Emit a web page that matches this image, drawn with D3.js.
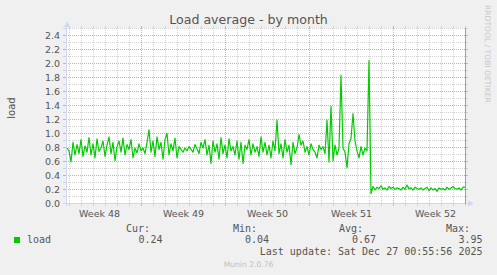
<!DOCTYPE html>
<html>
<head>
<meta charset="utf-8">
<script src="https://cdn.jsdelivr.net/npm/d3@7"></script>
<style>
  html, body { margin: 0; padding: 0; background: #f0f0f0; }
  svg { display: block; }
</style>
</head>
<body>
<div class="munin"></div>
<script>
////////////////////////////////// data

// 4-hour load averages, oldest first
var loadValues = [
  0.80, 0.76, 0.60, 0.88, 0.70, 0.85, 0.72, 0.92, 0.68, 0.83,
  0.74, 0.95, 0.70, 0.86, 0.66, 0.93, 0.75, 0.80, 0.90, 0.68,
  0.84, 0.96, 0.72, 0.88, 0.62, 0.82, 0.90, 0.74, 0.94, 0.70,
  0.85, 0.78, 0.92, 0.66, 0.80, 0.73, 0.86, 0.76, 0.80, 0.72,
  0.88, 1.06, 0.74, 0.90, 0.68, 0.96, 0.78, 0.88, 0.64, 0.92,
  1.01, 0.70, 0.86, 0.76, 0.94, 0.66, 0.82, 0.78, 0.74, 0.80,
  0.76, 0.82, 0.78, 0.74, 0.85, 0.79, 0.72, 0.88, 0.80, 0.92,
  0.70, 0.84, 0.58, 0.90, 0.74, 0.86, 0.64, 0.95, 0.72, 0.84,
  0.66, 0.93, 0.76, 0.82, 0.70, 0.90, 0.64, 0.88, 0.58, 0.84,
  0.78, 0.92, 0.70, 0.86, 0.74, 0.82, 0.68, 0.96, 0.74, 0.88,
  0.70, 0.84, 0.66, 0.90, 0.76, 1.20, 0.72, 0.86, 0.66, 0.92,
  0.74, 0.84, 0.56, 0.88, 0.72, 0.80, 0.99, 0.84, 0.90, 0.74,
  0.82, 0.70, 0.86, 0.78, 0.74, 0.66, 0.84, 0.78, 0.82, 0.72,
  1.20, 0.60, 1.40, 0.62, 0.84, 0.70, 0.80, 1.84, 0.80, 0.74,
  0.52, 0.86, 0.94, 1.29, 0.90, 0.76, 0.66, 0.82, 0.70, 0.80,
  0.76, 2.05,
  0.15, 0.25, 0.20, 0.24, 0.22, 0.26, 0.21, 0.23, 0.20, 0.25,
  0.22, 0.24, 0.21, 0.23, 0.22, 0.20, 0.24, 0.21, 0.27, 0.22,
  0.23, 0.20, 0.24, 0.22, 0.21, 0.23, 0.20, 0.22, 0.24, 0.19,
  0.23, 0.20, 0.22, 0.18, 0.23, 0.21, 0.22, 0.20, 0.24, 0.21,
  0.23, 0.25, 0.22, 0.21, 0.23, 0.20, 0.24, 0.24
];

var weekLabels = ["Week 48", "Week 49", "Week 50", "Week 51", "Week 52"];
var yMajorTicks = [0, 0.2, 0.4, 0.6, 0.8, 1.0, 1.2, 1.4, 1.6, 1.8, 2.0, 2.2, 2.4];
var yMinorTicks = [0.1, 0.3, 0.5, 0.7, 0.9, 1.1, 1.3, 1.5, 1.7, 1.9, 2.1, 2.3, 2.5];
var yTickLabels = ["0.0", "0.2", "0.4", "0.6", "0.8", "1.0", "1.2", "1.4", "1.6", "1.8", "2.0", "2.2", "2.4"];

var legendHeads = ["Cur:", "Min:", "Avg:", "Max:"];
var legendValues = ["0.24", "0.04", "0.67", "3.95"];
var lastUpdate = "Last update: Sat Dec 27 00:55:56 2025";

var muninGraph = (function() {

    var exports = {};

////////////////////////////////// global variables

    var width = 497, height = 275;
    var plot = { left: 66, right: 466, top: 29, bottom: 204 };

    var endTime = Date.UTC(2025, 11, 27, 0, 55, 56);
    var startTime = endTime - 800 * 3600e3;   // munin "month" = 800h
    var step = 4 * 3600e3;

    var font = "'DejaVu Sans', Verdana, sans-serif";
    var mono = "'DejaVu Sans Mono', monospace";

////////////////////////////////// helper functions

    //snaps a coordinate onto the middle of a pixel so 1px lines stay sharp
    function crisp(v){
        return Math.ceil(Math.round(v * 100) / 100) - 0.5;
    }

    function View(div){

        var svg = d3.select(div).append("svg")
            .attr("width", width).attr("height", height);

        svg.append("rect").attr("width", width).attr("height", height).attr("fill", "#f0f0f0");

        var x = d3.scaleUtc().domain([new Date(startTime), new Date(endTime)]).range([plot.left, plot.right]);
        var y = d3.scaleLinear().domain([0, 2.5]).range([plot.bottom, plot.top]);

        //canvas
        svg.append("rect")
            .attr("x", plot.left).attr("y", plot.top - 1)
            .attr("width", plot.right - plot.left).attr("height", plot.bottom - plot.top + 1)
            .attr("fill", "#ffffff");

        var grid = svg.append("g").attr("shape-rendering", "crispEdges");

        function hLines(vals, color){
            vals.forEach(function(v){
                var yy = crisp(y(v));
                grid.append("line").attr("x1", plot.left).attr("x2", plot.right)
                    .attr("y1", yy).attr("y2", yy)
                    .attr("stroke", color).attr("stroke-dasharray", "1,1");
                grid.append("line").attr("x1", plot.left - 3).attr("x2", plot.left)
                    .attr("y1", yy).attr("y2", yy).attr("stroke", color);
                grid.append("line").attr("x1", plot.right - 1).attr("x2", plot.right + 2)
                    .attr("y1", yy).attr("y2", yy).attr("stroke", color);
            });
        }

        function vLines(times, color){
            times.forEach(function(t){
                var xx = crisp(x(t));
                grid.append("line").attr("x1", xx).attr("x2", xx)
                    .attr("y1", plot.top - 1).attr("y2", plot.bottom)
                    .attr("stroke", color).attr("stroke-dasharray", "1,1");
                grid.append("line").attr("x1", xx).attr("x2", xx)
                    .attr("y1", plot.bottom - 1).attr("y2", plot.bottom + 2).attr("stroke", color);
                grid.append("line").attr("x1", xx).attr("x2", xx)
                    .attr("y1", plot.top - 3).attr("y2", plot.top).attr("stroke", color);
            });
        }

        var days = d3.utcDay.range(new Date(startTime), new Date(endTime));
        var sundays = d3.utcSunday.range(new Date(startTime), new Date(endTime));

        hLines(yMinorTicks, "#d2d2d2");
        vLines(days.filter(function(d){ return d.getUTCDay() !== 0; }), "#d2d2d2");
        hLines(yMajorTicks.slice(1), "#e6a3a3");
        vLines(sundays, "#e6a3a3");

        //axes
        var axisColor = "#cfd6f8";
        grid.append("line").attr("x1", plot.left - 3).attr("x2", plot.right + 3)
            .attr("y1", crisp(y(0))).attr("y2", crisp(y(0))).attr("stroke", axisColor);
        grid.append("line").attr("x1", plot.left + 0.5).attr("x2", plot.left + 0.5)
            .attr("y1", plot.bottom + 2).attr("y2", plot.top - 4).attr("stroke", axisColor);
        svg.append("path").attr("d", "M64,27L70,27L67,21Z").attr("fill", axisColor);
        svg.append("path").attr("d", "M468,200.5L468,206.5L474,203.5Z").attr("fill", axisColor);

        //right frame
        grid.append("line").attr("x1", plot.right - 0.5).attr("x2", plot.right - 0.5)
            .attr("y1", plot.top - 1).attr("y2", plot.bottom).attr("stroke", "#a0a0a0");

        //series
        var line = d3.line()
            .x(function(d, i){ return x(new Date(startTime + (i + 0.5) * step)); })
            .y(function(d){ return y(d); });

        svg.append("path").datum(loadValues)
            .attr("d", line)
            .attr("fill", "none")
            .attr("stroke", "#00cc00")
            .attr("stroke-width", 1.2)
            .attr("stroke-linejoin", "round");

        //y tick labels
        svg.selectAll(".ylab").data(yMajorTicks).enter().append("text")
            .attr("class", "ylab")
            .attr("x", 60).attr("y", function(d){ return crisp(y(d)); })
            .attr("dy", "0.36em")
            .attr("text-anchor", "end")
            .style("font", "9.5px " + font).style("fill", "#555")
            .text(function(d, i){ return yTickLabels[i]; });

        //week labels, centred in each week
        svg.selectAll(".xlab").data(sundays.length ? d3.utcSunday.range(d3.utcSunday.floor(new Date(startTime)), new Date(endTime)) : []).enter().append("text")
            .attr("class", "xlab")
            .attr("x", function(d){ return x(new Date(+d + 3.5 * 864e5)); })
            .attr("y", 216.5)
            .attr("text-anchor", "middle")
            .style("font", "9.5px " + font).style("fill", "#555")
            .text(function(d, i){ return weekLabels[i]; });

        //titles
        svg.append("text").attr("x", width / 2).attr("y", 24).attr("text-anchor", "middle")
            .style("font", "12.6px " + font).style("fill", "#555")
            .text("Load average - by month");

        svg.append("text").attr("transform", "translate(15,108) rotate(-90)")
            .attr("text-anchor", "middle")
            .style("font", "10px " + font).style("fill", "#555")
            .text("load");

        svg.append("text").attr("transform", "translate(485,5) rotate(90)")
            .attr("text-anchor", "start")
            .style("font", "7.6px " + font).style("fill", "#c8c8c8")
            .text("RRDTOOL / TOBI OETIKER");

        //legend
        var colRight = [150, 257, 363, 470];
        var valRight = [162.5, 269, 376, 482.5];

        svg.selectAll(".lhead").data(legendHeads).enter().append("text")
            .attr("class", "lhead")
            .attr("x", function(d, i){ return colRight[i]; }).attr("y", 231.5)
            .attr("text-anchor", "end")
            .style("font", "10px " + mono).style("fill", "#555")
            .text(function(d){ return d; });

        svg.append("rect").attr("x", 14).attr("y", 237).attr("width", 6).attr("height", 6).attr("fill", "#00cc00");
        svg.append("text").attr("x", 27).attr("y", 243)
            .style("font", "10px " + mono).style("fill", "#555").text("load");

        svg.selectAll(".lval").data(legendValues).enter().append("text")
            .attr("class", "lval")
            .attr("x", function(d, i){ return valRight[i]; }).attr("y", 243)
            .attr("text-anchor", "end")
            .style("font", "10px " + mono).style("fill", "#555")
            .text(function(d){ return d; });

        svg.append("text").attr("x", 482.5).attr("y", 254.5).attr("text-anchor", "end")
            .style("font", "10px " + mono).style("fill", "#555").text(lastUpdate);

        svg.append("text").attr("x", width / 2).attr("y", 266.5).attr("text-anchor", "middle")
            .style("font", "7.6px " + font).style("fill", "#c0c0c0").text("Munin 2.0.76");

        return {svg: svg};
    }

    function setup(div){
        View(div);
    }

    exports.setup = setup;
    return exports;
}());

muninGraph.setup(".munin");
</script>
</body>
</html>
